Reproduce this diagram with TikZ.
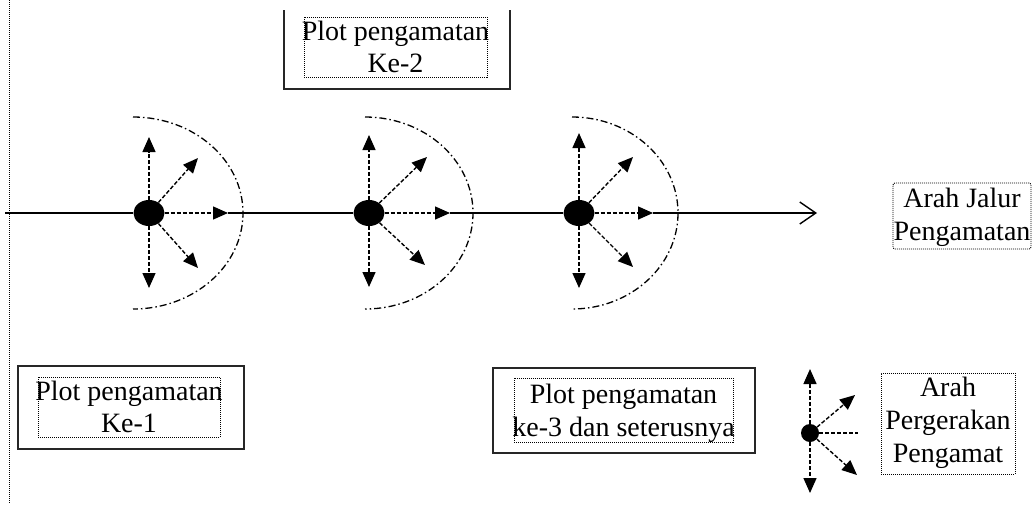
\documentclass[tikz,border=0pt]{standalone}
\usepackage{fontspec}
\setmainfont{Liberation Serif}
\usetikzlibrary{arrows.meta,shapes.geometric,calc}
\begin{document}
\begin{tikzpicture}[x=1pt,y=1pt,
  dotnode/.style={ellipse, fill=black, inner sep=0pt, minimum width=31pt, minimum height=26pt},
  smalldot/.style={circle, fill=black, inner sep=0pt, minimum size=18pt},
  darr/.style={line width=1.4pt, dash pattern=on 4pt off 2pt, -{Triangle[length=15pt,width=13pt]}},
  dline/.style={line width=1.4pt, dash pattern=on 4pt off 2pt},
  mline/.style={line width=1.4pt},
  arcl/.style={line width=1.3pt, dash pattern=on 7pt off 3pt on 1.5pt off 3pt},
  obox/.style={draw=black!85, line width=1.7pt, inner sep=0pt},
  dbox/.style={draw, line width=0.9pt, dash pattern=on 1pt off 1pt, inner sep=0pt},
  txt/.style={anchor=base, inner sep=0pt, font=\fontsize{28}{32}\selectfont}]
\useasboundingbox (0,0) rectangle (1032,-504);

% left dotted border line
\coordinate (vt) at (9,0);
\coordinate (vb) at (9,-504);
\draw[line width=0.9pt, dash pattern=on 1pt off 1pt] (vt) -- (vb);

% main line
\coordinate (ls) at (5,-213);
\coordinate (le) at (817,-213);

% observation points
\node[dotnode] (d1) at (149,-213) {};
\node[dotnode] (d2) at (369,-213) {};
\node[dotnode] (d3) at (579,-213) {};

\coordinate (r1) at (228,-213);
\coordinate (r2) at (450,-213);
\coordinate (r3) at (653,-213);

\draw[mline] (ls) -- (d1);
\draw[mline] (r1) -- (d2);
\draw[mline] (r2) -- (d3);
\draw[mline, -{Straight Barb[length=16pt,width=22pt,line width=1.4pt]}] (r3) -- (le);

% group 1
\coordinate (u1) at (149,-137);
\coordinate (b1) at (149,-288);
\coordinate (ur1) at (198,-158);
\coordinate (lr1) at (198,-268);
\draw[darr] (d1) -- (u1);
\draw[darr] (d1) -- (b1);
\draw[darr] (d1) -- (ur1);
\draw[darr] (d1) -- (lr1);
\draw[darr] (d1) -- (r1);
\coordinate (a1) at (133,-117);
\draw[arcl] (a1) arc[start angle=90, end angle=-90, x radius=110, y radius=96];

% group 2
\coordinate (u2) at (369,-135);
\coordinate (b2) at (369,-287);
\coordinate (ur2) at (427,-157);
\coordinate (lr2) at (425,-265);
\draw[darr] (d2) -- (u2);
\draw[darr] (d2) -- (b2);
\draw[darr] (d2) -- (ur2);
\draw[darr] (d2) -- (lr2);
\draw[darr] (d2) -- (r2);
\coordinate (a2) at (365,-117);
\draw[arcl] (a2) arc[start angle=90, end angle=-90, x radius=108, y radius=96];

% group 3
\coordinate (u3) at (579,-133);
\coordinate (b3) at (579,-288);
\coordinate (ur3) at (633,-157);
\coordinate (lr3) at (633,-267);
\draw[darr] (d3) -- (u3);
\draw[darr] (d3) -- (b3);
\draw[darr] (d3) -- (ur3);
\draw[darr] (d3) -- (lr3);
\draw[darr] (d3) -- (r3);
\coordinate (a3) at (572,-117);
\draw[arcl] (a3) arc[start angle=90, end angle=-90, x radius=106, y radius=96];

% box Ke-2 (top edge outside the picture)
\coordinate (k2a) at (284,-10);
\coordinate (k2b) at (510,-89);
\coordinate (k2c) at (510,-10);
\draw[draw=black!85, line width=1.7pt] (k2a) |- (k2b) -- (k2c);
\node[dbox, minimum width=183pt, minimum height=60pt] (k2d) at (395.5,-47) {};
\node[txt] (k2t1) at (395.5,-40) {Plot pengamatan};
\node[txt] (k2t2) at (395.5,-72) {Ke-2};

% box Ke-1
\node[obox, minimum width=226pt, minimum height=83pt] (k1o) at (131,-407.5) {};
\node[dbox, minimum width=182pt, minimum height=60pt] (k1d) at (129,-407) {};
\node[txt] (k1t1) at (129,-400) {Plot pengamatan};
\node[txt] (k1t2) at (129,-432) {Ke-1};

% box ke-3
\node[obox, minimum width=262pt, minimum height=85pt] (k3o) at (624,-410.5) {};
\node[dbox, minimum width=219pt, minimum height=64pt] (k3d) at (623.5,-410) {};
\node[txt] (k3t1) at (623.5,-403) {Plot pengamatan};
\node[txt] (k3t2) at (623.5,-436) {ke-3 dan seterusnya};

% Arah Jalur Pengamatan
\node[dbox, rounded corners=2pt, minimum width=138pt, minimum height=66pt] (ajd) at (962,-216) {};
\node[txt] (ajt1) at (962,-207) {Arah Jalur};
\node[txt] (ajt2) at (962,-240) {Pengamatan};

% legend
\node[smalldot] (ld) at (810,-433) {};
\coordinate (lu) at (810,-369);
\coordinate (lb) at (810,-493);
\coordinate (lur) at (855,-395);
\coordinate (llr) at (857,-475);
\coordinate (lh) at (858,-433);
\draw[darr] (ld) -- (lu);
\draw[darr] (ld) -- (lb);
\draw[darr] (ld) -- (lur);
\draw[darr] (ld) -- (llr);
\draw[dline] (ld) -- (lh);

\node[dbox, minimum width=134pt, minimum height=101pt] (apd) at (948,-423.5) {};
\node[txt] (apt1) at (948,-396) {Arah};
\node[txt] (apt2) at (948,-429) {Pergerakan};
\node[txt] (apt3) at (948,-462) {Pengamat};
\end{tikzpicture}
\end{document}
